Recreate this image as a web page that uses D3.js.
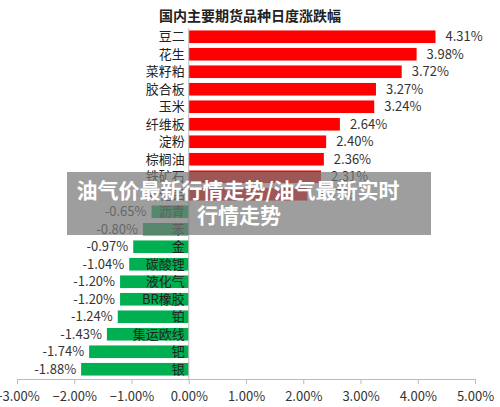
<!DOCTYPE html>
<html><head><meta charset="utf-8">
<script src="https://cdn.jsdelivr.net/npm/d3@7"></script>
<style>body{margin:0;background:#fff}text{font-family:"Microsoft YaHei","Noto Sans CJK SC",sans-serif}</style>
</head><body>
<script>
var names = ["豆二","花生","菜籽粕","胶合板","玉米","纤维板","淀粉","棕榈油","铁矿石","氧化铝","沥青","苯","金","碳酸锂","液化气","BR橡胶","铂","集运欧线","钯","银"];
var values = [4.31,3.98,3.72,3.27,3.24,2.64,2.40,2.36,2.31,2.07,-0.65,-0.80,-0.97,-1.04,-1.20,-1.20,-1.24,-1.43,-1.74,-1.88];
var ticks = [-3,-2,-1,0,1,2,3,4,5];
var W = 500, H = 407;
var svg = d3.select("body").append("svg").attr("width", W).attr("height", H);
var x = d3.scaleLinear().domain([-3,5]).range([17,475]);
var y = d3.scaleBand().domain(names).range([28,378]).paddingInner(0.28).paddingOuter(0.14);

svg.append("text").attr("x",250).attr("y",21).attr("text-anchor","middle")
  .attr("font-size",14).attr("font-weight","bold").attr("fill","#222").text("国内主要期货品种日度涨跌幅");

svg.selectAll("rect.bar").data(values).enter().append("rect")
  .attr("x", d => x(Math.min(0,d))).attr("y", (d,i) => y(names[i]))
  .attr("width", d => Math.abs(x(d)-x(0))).attr("height", y.bandwidth())
  .attr("fill", d => d > 0 ? "#ff0000" : "#00b050");

var ax = svg.append("g").attr("transform","translate(0,379)")
  .call(d3.axisBottom(x).tickValues(ticks).tickSize(5).tickFormat(d => d3.format(".2f")(d)+"%"));
ax.select(".domain").attr("stroke","#bbb");
ax.selectAll(".tick line").attr("stroke","#bbb");
ax.selectAll("text").attr("font-size",13).attr("fill","#333").attr("dy","1.1em");

svg.append("line").attr("x1",x(0)).attr("x2",x(0)).attr("y1",28).attr("y2",379).attr("stroke","#bbb");

svg.selectAll("text.cat").data(names).enter().append("text")
  .attr("x", x(0)-4).attr("y", d => y(d)+y.bandwidth()/2).attr("dy","0.35em")
  .attr("text-anchor","end").attr("font-size",13).attr("fill","#222").text(d => d);

svg.selectAll("text.val").data(values).enter().append("text")
  .attr("x", d => d > 0 ? x(d)+10 : x(d)-5).attr("y", (d,i) => y(names[i])+y.bandwidth()/2).attr("dy","0.35em")
  .attr("text-anchor", d => d > 0 ? "start" : "end").attr("font-size",13).attr("fill","#333")
  .text(d => d.toFixed(2)+"%");

svg.append("rect").attr("x",67).attr("y",172).attr("width",364).attr("height",63).attr("fill","rgba(120,120,120,0.72)");
svg.append("text").attr("x",238).attr("y",198).attr("text-anchor","middle").attr("font-size",21).attr("font-weight","bold").attr("fill","#fff").text("油气价最新行情走势/油气最新实时");
svg.append("text").attr("x",239).attr("y",223).attr("text-anchor","middle").attr("font-size",21).attr("font-weight","bold").attr("fill","#fff").text("行情走势");
</script>
</body></html>
